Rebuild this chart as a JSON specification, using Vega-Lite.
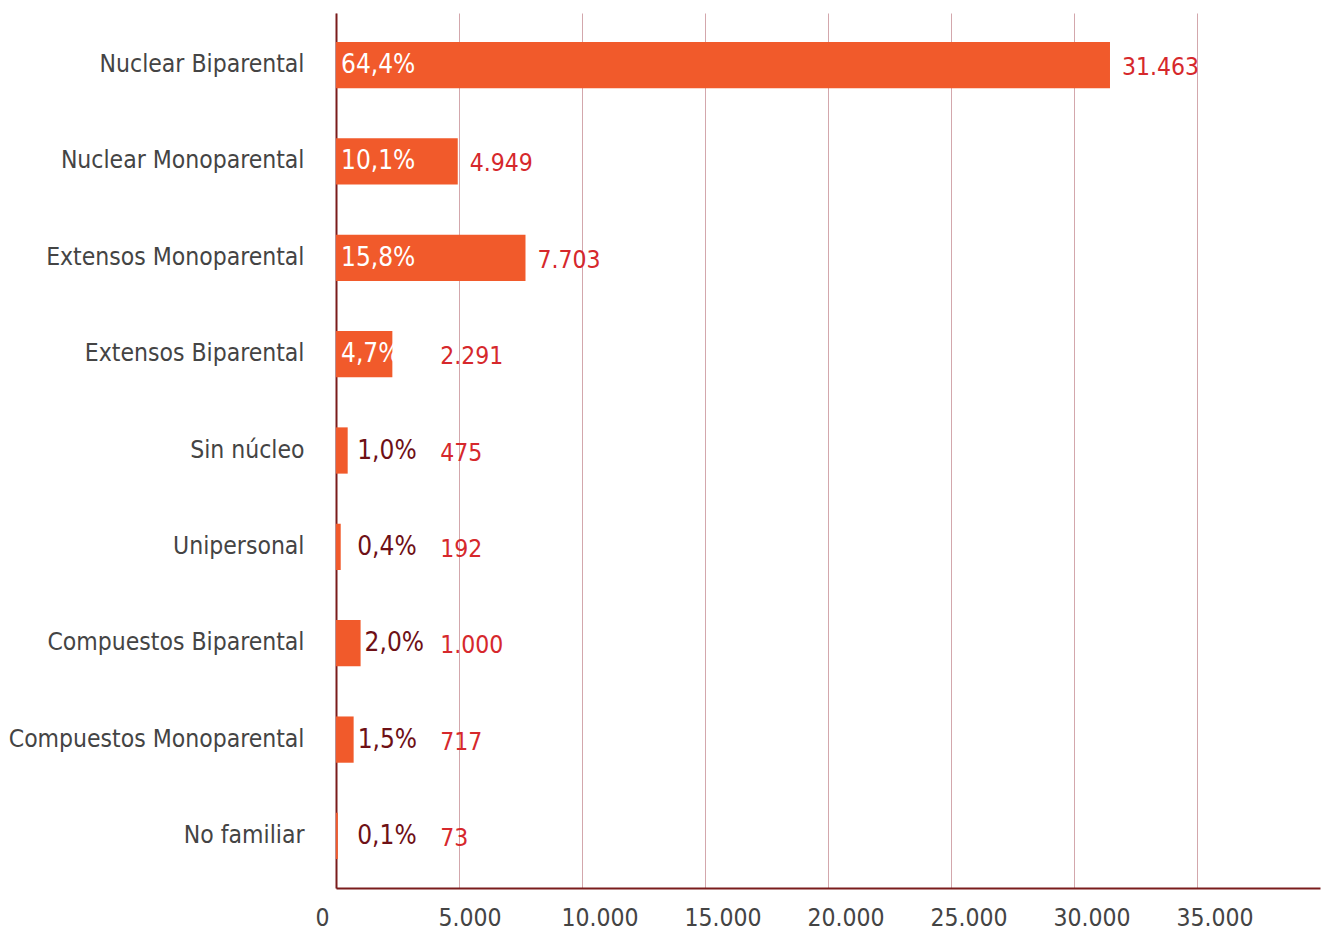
{
  "$schema": "https://vega.github.io/schema/vega-lite/v6.json",
  "width": 984,
  "height": 875,
  "autosize": "none",
  "padding": {"left": 336, "top": 13, "right": 1, "bottom": 42},
  "background": "white",
  "config": {
    "view": {"stroke": null},
    "font": "DejaVu Sans Condensed, sans-serif",
    "locale": {"number": {"decimal": ",", "thousands": ".", "grouping": [3], "currency": ["", " €"]}}
  },
  "data": {
    "values": [
      {"tipo": "Nuclear Biparental", "hogares": 31463, "pct": "64,4%"},
      {"tipo": "Nuclear Monoparental", "hogares": 4949, "pct": "10,1%"},
      {"tipo": "Extensos Monoparental", "hogares": 7703, "pct": "15,8%"},
      {"tipo": "Extensos Biparental", "hogares": 2291, "pct": "4,7%"},
      {"tipo": "Sin núcleo", "hogares": 475, "pct": "1,0%"},
      {"tipo": "Unipersonal", "hogares": 192, "pct": "0,4%"},
      {"tipo": "Compuestos Biparental", "hogares": 1000, "pct": "2,0%"},
      {"tipo": "Compuestos Monoparental", "hogares": 717, "pct": "1,5%"},
      {"tipo": "No familiar", "hogares": 73, "pct": "0,1%"}
    ]
  },
  "encoding": {
    "y": {
      "field": "tipo",
      "type": "nominal",
      "sort": null,
      "scale": {"paddingInner": 0.52, "paddingOuter": 0.3},
      "axis": {
        "title": null,
        "domain": true,
        "domainColor": "#7A1C1C",
        "domainWidth": 2,
        "ticks": false,
        "tickSize": 0,
        "labelFontSize": 24.5,
        "labelColor": "#444444",
        "labelPadding": 32,
        "labelLimit": 400,
        "labelFont": "DejaVu Sans Condensed, sans-serif"
      }
    }
  },
  "layer": [
    {
      "mark": {"type": "bar", "color": "#F15A2B"},
      "encoding": {
        "x": {
          "field": "hogares",
          "type": "quantitative",
          "scale": {"domain": [0, 40000], "nice": false},
          "axis": {
            "title": null,
            "values": [0, 5000, 10000, 15000, 20000, 25000, 30000, 35000],
            "format": ",.0f",
            "grid": true,
            "gridColor": "#D3A7AC",
            "gridWidth": 1,
            "domain": true,
            "domainColor": "#7A1C1C",
            "domainWidth": 2,
            "ticks": false,
            "tickSize": 0,
            "labelFontSize": 24.5,
            "labelColor": "#444444",
            "labelAlign": "left",
            "labelOffset": -21,
            "labelBaseline": "alphabetic",
            "labelPadding": 37,
            "labelFont": "DejaVu Sans Condensed, sans-serif"
          }
        }
      }
    },
    {
      "transform": [{"calculate": "max(datum.hogares, 3750)", "as": "lx"}],
      "mark": {"type": "text", "align": "left", "baseline": "middle", "dx": 12, "dy": 3, "fontSize": 24.5, "color": "#D6282C"},
      "encoding": {
        "x": {"field": "lx", "type": "quantitative"},
        "text": {"field": "hogares", "type": "quantitative", "format": ","}
      }
    },
    {
      "transform": [{"filter": "datum.hogares >= 2000"}],
      "mark": {"type": "text", "align": "left", "baseline": "middle", "dx": 5, "dy": 0, "fontSize": 26, "color": "#FFFFFF"},
      "encoding": {
        "x": {"datum": 0, "type": "quantitative"},
        "text": {"field": "pct", "type": "nominal"}
      }
    },
    {
      "transform": [{"filter": "datum.hogares < 2000"}, {"calculate": "max(datum.hogares, 700)", "as": "px"}],
      "mark": {"type": "text", "align": "left", "baseline": "middle", "dx": 4, "dy": 0, "fontSize": 26, "color": "#6E1016"},
      "encoding": {
        "x": {"field": "px", "type": "quantitative"},
        "text": {"field": "pct", "type": "nominal"}
      }
    }
  ]
}
